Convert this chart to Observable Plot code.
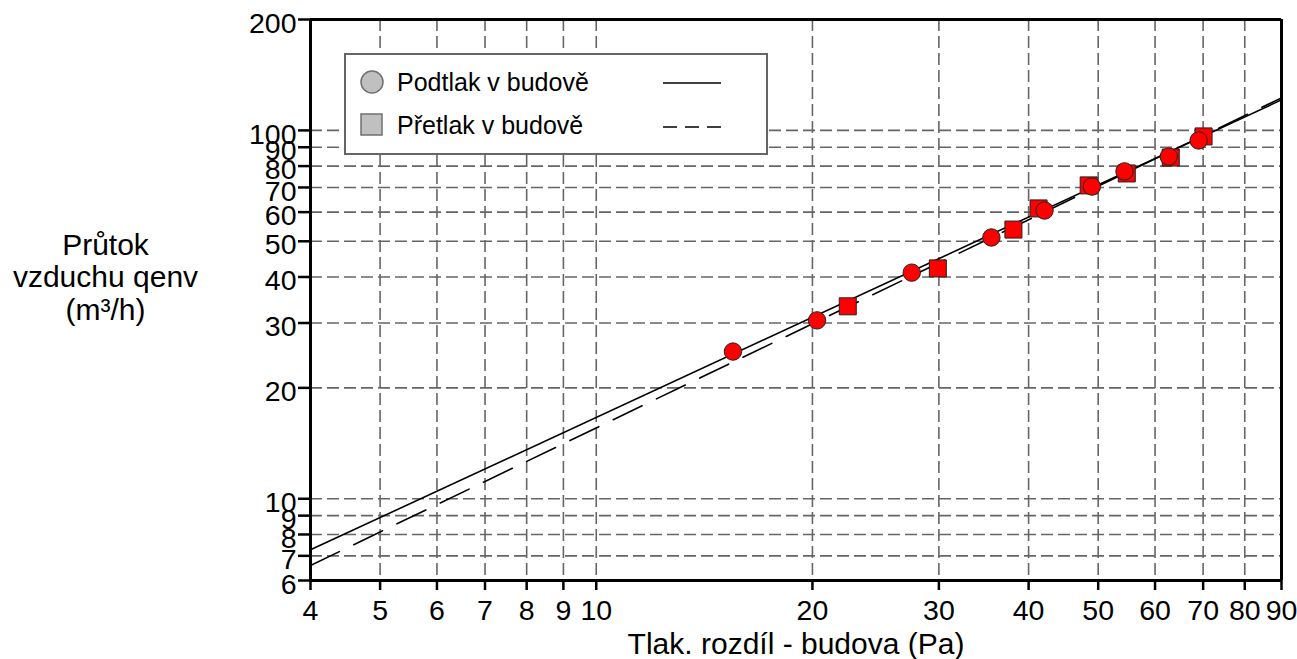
<!DOCTYPE html>
<html>
<head>
<meta charset="utf-8">
<script src="https://cdn.jsdelivr.net/npm/d3@7"></script>
<script src="https://cdn.jsdelivr.net/npm/@observablehq/plot@0.6"></script>
<style>
  html, body { margin: 0; padding: 0; background: #fff; }
  #wrap { position: relative; width: 1297px; height: 659px; font-family: "Liberation Sans", Arial, sans-serif; }
  #legend { position: absolute; left: 344px; top: 53px; width: 420px; height: 98px; border: 2px solid #666; background: #fff; }
  #legend svg { position: absolute; left: 0; top: 0; }
</style>
</head>
<body>
<div id="wrap"></div>
<script>
// ---- data ----
const xTicks = [4, 5, 6, 7, 8, 9, 10, 20, 30, 40, 50, 60, 70, 80, 90];
const yTicks = [6, 7, 8, 9, 10, 20, 30, 40, 50, 60, 70, 80, 90, 100, 200];
const xGrid = [5, 6, 7, 8, 9, 10, 20, 30, 40, 50, 60, 70, 80];
const yGrid = [7, 8, 9, 10, 20, 30, 40, 50, 60, 70, 80, 90, 100];

// Podtlak v budově (depressurisation) – circles
const podDp = [15.5, 20.3, 27.5, 35.5, 42.1, 49.0, 54.4, 62.7, 69.0];
const podQ  = [25.1, 30.5, 41.1, 51.2, 60.6, 70.4, 77.4, 84.9, 93.9];
// Přetlak v budově (pressurisation) – squares
const preDp = [22.4, 29.9, 38.1, 41.3, 48.5, 54.8, 63.1, 70.1];
const preQ  = [33.3, 42.2, 53.8, 61.4, 70.9, 76.4, 84.4, 96.3];
// fitted lines (end points on the log-log frame)
const lineDp = [4, 90];
const podLineQ = [7.27, 121.0];
const preLineQ = [6.59, 122.5];

const seriesNames = ["Podtlak v budově", "Přetlak v budově"];
const xTitle = "Tlak. rozdíl - budova (Pa)";
const yTitle = "Průtok\nvzduchu qenv\n(m³/h)";

const pod = podDp.map((d, i) => ({dp: d, q: podQ[i]}));
const pre = preDp.map((d, i) => ({dp: d, q: preQ[i]}));
const podLine = lineDp.map((d, i) => ({dp: d, q: podLineQ[i]}));
const preLine = lineDp.map((d, i) => ({dp: d, q: preLineQ[i]}));

const font = "'Liberation Sans', Arial, sans-serif";
const tickFont = 28.5;
const titleFont = 30;

const chart = Plot.plot({
  width: 1297,
  height: 659,
  marginLeft: 310,
  marginRight: 16,
  marginTop: 19,
  marginBottom: 79,
  style: {fontFamily: font, fontSize: "22px", color: "#000", background: "#fff"},
  x: {type: "log", domain: [4, 90]},
  y: {type: "log", domain: [6, 200]},
  marks: [
    Plot.gridX(xGrid, {stroke: "#666", strokeOpacity: 1, strokeWidth: 1.6, strokeDasharray: "12,5"}),
    Plot.gridY(yGrid, {stroke: "#666", strokeOpacity: 1, strokeWidth: 1.6, strokeDasharray: "12,5"}),
    Plot.axisX(xTicks, {tickSize: 10, tickFormat: () => "", strokeWidth: 2.5, label: null}),
    Plot.axisY(yTicks, {tickSize: 12, tickFormat: () => "", strokeWidth: 2.5, label: null}),
    Plot.text(xTicks, {x: d => d, frameAnchor: "bottom", lineAnchor: "middle", dy: 30, fontSize: tickFont, fill: "#000", text: d => String(d)}),
    Plot.text(yTicks, {y: d => d, frameAnchor: "left", lineAnchor: "middle", dx: -14, dy: 4, textAnchor: "end", fontSize: tickFont, fill: "#000", text: d => String(d)}),
    Plot.ruleY([6], {stroke: "#000", strokeWidth: 3}),
    Plot.ruleY([200], {stroke: "#000", strokeWidth: 3}),
    Plot.ruleX([4], {stroke: "#000", strokeWidth: 3}),
    Plot.ruleX([90], {stroke: "#000", strokeWidth: 3}),
    Plot.line(podLine, {x: "dp", y: "q", stroke: "#000", strokeWidth: 1.6}),
    Plot.line(preLine, {x: "dp", y: "q", stroke: "#000", strokeWidth: 1.6, strokeDasharray: "32,16"}),
    Plot.dot(pre, {x: "dp", y: "q", symbol: "square", r: 9.6, fill: "#ff0000", stroke: "#222", strokeWidth: 1}),
    Plot.dot(pod, {x: "dp", y: "q", symbol: "circle", r: 8.7, fill: "#ff0000", stroke: "#222", strokeWidth: 1}),
    Plot.text([xTitle], {frameAnchor: "bottom", lineAnchor: "middle", dy: 64, fontSize: titleFont, fill: "#000"}),
    Plot.text([yTitle], {frameAnchor: "left", lineAnchor: "middle", dx: -205, dy: -23, fontSize: titleFont, lineHeight: 1.08, textAnchor: "middle", fill: "#000"})
  ]
});

const wrap = document.getElementById("wrap");
wrap.appendChild(chart);

// legend overlay
const legend = document.createElement("div");
legend.id = "legend";
const ns = "http://www.w3.org/2000/svg";
const lsvg = document.createElementNS(ns, "svg");
lsvg.setAttribute("width", "420");
lsvg.setAttribute("height", "98");
lsvg.innerHTML = `
  <circle cx="26" cy="27" r="11" fill="#c0c0c0" stroke="#707070" stroke-width="1.5"/>
  <text x="51" y="27" dy="0.35em" font-family="${font}" font-size="25" fill="#000">${seriesNames[0]}</text>
  <line x1="317" x2="375" y1="28" y2="28" stroke="#000" stroke-width="1.4"/>
  <rect x="15" y="59" width="21" height="21" fill="#c0c0c0" stroke="#707070" stroke-width="1.5"/>
  <text x="51" y="70" dy="0.35em" font-family="${font}" font-size="25" fill="#000">${seriesNames[1]}</text>
  <line x1="317" x2="375" y1="72" y2="72" stroke="#000" stroke-width="1.4" stroke-dasharray="14,8"/>
`;
legend.appendChild(lsvg);
wrap.appendChild(legend);
</script>
</body>
</html>
